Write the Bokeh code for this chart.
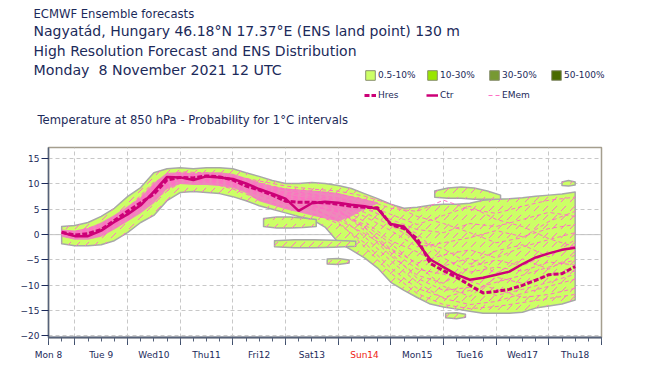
from bokeh.plotting import figure
from bokeh.layouts import column
from bokeh.models import Range1d, FixedTicker, Legend, LegendItem, Span, ColumnDataSource
from bokeh.core.properties import value
from bokeh.embed import file_html
from bokeh.resources import INLINE

NAVY = "#1c2a5a"
FONT = "DejaVu Sans"

# ---------------- data (hours after Mon 8 Nov 2021 12 UTC) ----------------
hours = [6, 12, 18, 24, 30, 36, 42, 48, 54, 60, 66, 72, 78, 84, 90, 96, 102, 108, 114, 120,
         126, 132, 138, 144, 150, 156, 162, 168, 174, 180, 186, 192, 198, 204, 210, 216, 222, 228, 234, 240]

ctr = [0.4, -0.3, -0.3, 0.8, 2.5, 4.0, 5.8, 8.5, 11.4, 11.3, 10.8, 11.5, 11.3, 11.0, 10.1, 9.0, 8.1, 7.1, 4.7, 6.2,
       6.5, 6.3, 5.9, 5.6, 5.1, 2.1, 1.6, -1.5, -4.9, -6.4, -7.9, -8.9, -8.5, -7.9, -7.3, -5.8, -4.5, -3.7, -3.0, -2.6]

hres = [0.5, -0.1, 0.2, 1.0, 2.8, 4.6, 6.3, 8.0, 10.8, 11.3, 11.2, 11.6, 11.4, 10.8, 9.6, 8.8, 7.8, 6.6, 6.4, 6.4,
        6.3, 6.0, 5.6, 5.4, 5.3, 2.0, 1.2, -0.8, -5.7, -7.1, -8.4, -10.0, -11.5, -11.2, -10.8, -10.0, -9.0, -7.9, -7.7, -6.3]

env_upper = [1.6, 1.8, 2.4, 3.6, 5.2, 7.5, 9.3, 12.2, 13.0, 13.2, 13.0, 13.2, 13.2, 13.0, 12.2, 11.5, 10.7, 10.1, 10.1, 10.3,
             10.1, 9.7, 9.1, 8.1, 7.1, 6.0, 5.2, 5.4, 5.8, 6.0, 6.0, 6.2, 6.8, 7.0, 7.1, 7.3, 7.6, 7.8, 8.0, 8.4]

env_lower = [-1.8, -2.2, -2.2, -2.0, -1.2, 0.4, 2.4, 3.8, 6.7, 8.3, 8.5, 8.3, 8.1, 7.5, 6.7, 5.7, 5.0, 4.3, 3.6, 3.0,
             1.5, -1.5, -3.0, -4.6, -6.6, -9.4, -11.0, -12.4, -13.7, -14.3, -14.7, -15.1, -15.5, -15.5, -15.5, -15.3, -14.5, -14.1, -13.7, -12.9]

# detached low-probability areas (hours, lower, upper)
isl_hours = [[98, 104, 110, 116, 122],
             [103, 112, 121, 130, 140],
             [127, 132, 137],
             [176, 182, 188, 194, 200, 206],
             [181, 186, 190],
             [234, 237, 240]]
isl_lower = [[1.6, 1.3, 1.3, 1.4, 1.6],
             [-2.4, -2.6, -2.6, -2.5, -2.3],
             [-5.8, -5.9, -5.6],
             [7.4, 7.2, 7.2, 7.0, 7.0, 7.0],
             [-16.4, -16.6, -16.3],
             [9.7, 9.6, 9.8]]
isl_upper = [[3.2, 3.5, 3.5, 3.3, 3.0],
             [-1.2, -1.0, -1.0, -1.1, -1.3],
             [-4.8, -4.7, -5.0],
             [8.6, 9.2, 9.4, 9.2, 8.6, 7.8],
             [-15.5, -15.4, -15.7],
             [10.4, 10.7, 10.4]]

# dense member core
core_hours = hours[:25]
core_upper = [1.0, 0.8, 1.3, 2.4, 3.9, 5.6, 7.4, 10.2, 12.2, 12.3, 12.1, 12.3, 12.3, 12.0, 11.2, 10.3, 9.6, 9.1, 8.9, 8.7,
              8.5, 8.2, 7.6, 7.0, 6.4]
core_lower = [-0.4, -1.0, -1.0, -0.4, 1.0, 2.6, 4.2, 6.2, 9.0, 10.0, 9.8, 9.8, 9.6, 9.2, 8.2, 6.6, 5.8, 5.0, 4.4, 3.8,
              3.2, 2.6, 3.6, 5.0, 6.1]

# ensemble members (12-hourly)
mem_hours = [6, 12, 24, 36, 48, 60, 72, 84, 96, 108, 120, 132, 144, 156, 168, 180, 192, 204, 216, 228, 240]
members = [
    [0.6, 0.4, 1.6, 4.8, 9.8, 12.0, 11.8, 11.4, 10.2, 9.0, 8.6, 8.0, 7.0, 5.2, 4.6, 6.8, 5.0, 4.2, 5.6, 6.8, 7.4],
    [0.3, -0.2, 1.0, 4.2, 9.0, 11.4, 11.6, 10.8, 9.4, 8.2, 7.4, 6.6, 5.2, 3.0, 1.0, 0.4, 2.2, 1.6, 3.0, 4.4, 3.6],
    [0.5, 0.2, 0.6, 3.6, 8.2, 11.0, 11.0, 10.2, 8.6, 7.2, 6.8, 5.8, 3.6, 0.8, -2.4, -1.6, -0.6, 0.8, -0.4, 1.2, 2.0],
    [0.2, -0.6, 0.4, 3.2, 7.6, 10.6, 10.8, 9.6, 7.8, 6.0, 5.6, 4.6, 1.4, -2.8, -5.6, -4.0, -3.0, -4.6, -2.4, -1.0, 0.4],
    [0.4, 0.0, 1.2, 4.4, 9.4, 11.8, 11.2, 11.0, 9.0, 7.8, 7.0, 5.0, 0.8, -4.2, -8.0, -9.6, -6.4, -5.0, -6.2, -3.6, -2.2],
    [0.1, -0.8, -0.2, 2.8, 7.0, 10.2, 10.4, 9.0, 7.0, 5.4, 4.2, 2.2, -1.6, -6.6, -10.6, -12.4, -11.0, -9.4, -8.0, -6.4, -5.0],
    [0.7, 0.6, 2.0, 5.2, 10.4, 12.4, 12.2, 11.6, 10.6, 9.6, 9.0, 8.6, 7.6, 6.0, 3.6, 2.2, 0.4, -1.6, -0.6, 2.6, 4.6],
    [0.3, -0.4, 0.8, 4.0, 8.8, 11.2, 11.4, 10.6, 9.2, 7.6, 6.2, 3.8, -0.4, -5.2, -9.4, -12.6, -13.8, -13.2, -11.6, -10.2, -8.8],
    [0.5, 0.1, 1.4, 4.6, 9.6, 11.6, 11.0, 10.4, 8.4, 6.6, 5.0, 3.0, 0.2, -3.0, -6.8, -7.8, -9.2, -10.8, -12.4, -11.8, -10.6],
    [0.4, -0.3, 0.2, 3.4, 8.0, 10.8, 10.6, 9.8, 8.2, 6.8, 6.4, 5.4, 2.6, -1.2, -3.4, -6.2, -4.6, -7.6, -4.8, -6.8, -4.0],
    [0.6, 0.3, 1.8, 5.0, 10.0, 12.2, 11.6, 11.2, 9.8, 8.8, 8.0, 7.2, 6.0, 4.0, 2.0, 3.8, 5.6, 3.0, 1.6, -0.8, -2.4],
    [0.2, -0.5, 0.6, 3.8, 8.6, 11.0, 10.8, 10.0, 8.8, 7.0, 5.8, 4.4, 2.0, -1.8, -6.0, -10.2, -12.2, -8.4, -9.6, -8.0, -7.2],
    [0.4, 0.0, 0.9, 4.2, 9.2, 11.5, 11.2, 10.6, 9.0, 7.4, 5.4, 2.6, -2.4, -7.6, -11.6, -13.8, -14.6, -14.2, -13.4, -12.6, -11.8],
    [0.5, -0.1, 1.1, 4.3, 9.1, 11.3, 11.3, 10.7, 9.3, 8.0, 6.6, 4.8, 1.6, -3.6, -8.6, -11.0, -10.4, -12.0, -10.8, -9.4, -7.8],
    [0.3, -0.3, 0.7, 3.9, 8.7, 11.1, 11.0, 10.3, 8.9, 7.5, 7.2, 6.2, 4.4, 1.8, -1.2, -2.8, -5.8, -3.2, -2.0, -4.4, -1.0],
    [0.6, 0.2, 1.5, 4.7, 9.5, 11.7, 11.5, 11.0, 9.6, 8.4, 7.8, 6.8, 5.6, 2.6, 0.2, -4.6, -7.4, -6.4, -7.2, -5.4, -6.0],
]

day_hours = [0, 24, 48, 72, 96, 120, 144, 168, 192, 216, 240]
day_labels = ["Mon 8", "Tue 9", "Wed10", "Thu11", "Fri12", "Sat13", "Sun14", "Mon15", "Tue16", "Wed17", "Thu18"]
midnight_hours = [12, 36, 60, 84, 108, 132, 156, 180, 204, 228]
y_ticks = [-20, -15, -10, -5, 0, 5, 10, 15]

prob_labels = ["0.5-10%", "10-30%", "30-50%", "50-100%"]
prob_colors = ["#ccff66", "#99e600", "#779933", "#4a6b00"]

title_lines = ["ECMWF Ensemble forecasts",
               "Nagyatád, Hungary 46.18°N 17.37°E (ENS land point) 130 m",
               "High Resolution Forecast and ENS Distribution",
               "Monday\u00a0 8 November 2021 12 UTC"]
subtitle = "Temperature at 850 hPa - Probability for 1°C intervals"

CTR_COLOR = "#cc0077"
MEM_COLOR = "#ff70c4"

# layout constants (pixels)
W = 650
HEAD_H = 140
FL, FR = 48, 49           # main frame left / right borders
X0, X1 = 0, 252           # hour range of the main frame

# ---------------- header (titles + legend) ----------------
head = figure(width=W, height=HEAD_H, x_range=Range1d(0, W), y_range=Range1d(HEAD_H, 0),
              output_backend="svg", toolbar_location=None, title=None,
              x_axis_type=None, y_axis_type=None,
              min_border_left=0, min_border_right=0, min_border_top=0, min_border_bottom=0)
head.frame_align = False
head.outline_line_color = None
head.xgrid.visible = False
head.ygrid.visible = False
head.text(x=[33, 33, 33, 33], y=[13, 30.5, 50, 69], text=title_lines,
          text_font=value(FONT), text_font_size=["11.6px", "14px", "14px", "14.2px"],
          text_color=NAVY, text_baseline="middle", text_align="left")
head.text(x=[37], y=[119], text=[subtitle], text_font=value(FONT), text_font_size="11.6px",
          text_color=NAVY, text_baseline="middle", text_align="left")

# legend proxies (kept outside the visible range)
off_x, off_y = [-20, -19, -19], [-20, -20, -19]
lg_prob = [head.patch(off_x, off_y, fill_color=c, line_color="#8a9070", line_width=1) for c in prob_colors]
lg_hres = head.line(off_x[:2], off_y[:2], line_color=CTR_COLOR, line_width=3, line_dash="5 2")
lg_ctr = head.line(off_x[:2], off_y[:2], line_color=CTR_COLOR, line_width=2.5)
lg_mem = head.line(off_x[:2], off_y[:2], line_color=MEM_COLOR, line_width=1, line_dash="4 3")
items = [LegendItem(label=l, renderers=[r]) for l, r in zip(prob_labels, lg_prob)]
items += [LegendItem(label="Hres", renderers=[lg_hres]),
          LegendItem(label="Ctr", renderers=[lg_ctr]),
          LegendItem(label="EMem", renderers=[lg_mem])]
legend = Legend(items=items, location=(364, 36), orientation="horizontal", ncols=4,
                glyph_width=12, glyph_height=12, label_height=18, label_width=46, label_standoff=2,
                spacing=2, padding=0, margin=0, border_line_color=None, background_fill_alpha=0,
                label_text_font=FONT, label_text_font_size="9px", label_text_color=NAVY)
head.add_layout(legend)

# ---------------- main chart ----------------
p = figure(width=W, height=205, x_range=Range1d(X0, X1), y_range=Range1d(-20.3, 17.2),
           output_backend="svg", toolbar_location=None, title=None,
           min_border_left=FL, min_border_right=FR, min_border_top=7, min_border_bottom=8)
p.frame_align = False
p.background_fill_color = "white"
p.border_fill_color = "white"
p.outline_line_color = "#a59e8e"
p.outline_line_width = 1.5

p.xgrid.ticker = FixedTicker(ticks=midnight_hours)
p.ygrid.ticker = FixedTicker(ticks=y_ticks)
for g in (p.xgrid, p.ygrid):
    g.grid_line_color = "#c8c8c8"
    g.grid_line_dash = "4 3"
    g.grid_line_width = 1
p.add_layout(Span(location=0, dimension="width", line_color="#c4c4c4", line_width=1, level="underlay"))

p.yaxis.ticker = FixedTicker(ticks=y_ticks)
p.yaxis.axis_line_color = "#56627a"
p.yaxis.axis_line_width = 1.5
p.yaxis.major_tick_line_color = NAVY
p.yaxis.major_tick_out = 7
p.yaxis.major_tick_in = 0
p.yaxis.major_label_standoff = 2
p.yaxis.major_label_text_font = FONT
p.yaxis.major_label_text_font_size = "9px"
p.yaxis.major_label_text_color = NAVY

p.xaxis.ticker = FixedTicker(ticks=[X0] + midnight_hours + [X1], minor_ticks=list(range(X0, X1 + 1, 6)))
p.xaxis.axis_line_color = "#56627a"
p.xaxis.axis_line_width = 2
p.xaxis.major_tick_line_color = "#40506e"
p.xaxis.major_tick_out = 8
p.xaxis.major_tick_in = 0
p.xaxis.minor_tick_line_color = "#56627a"
p.xaxis.minor_tick_out = 4
p.xaxis.minor_tick_in = 0
p.xaxis.major_label_standoff = 0
p.xaxis.major_label_overrides = {t: "" for t in [X0] + midnight_hours + [X1]}
p.xaxis.major_label_text_font_size = "1px"

env_xs = hours + hours[::-1]
env_ys = env_upper + env_lower[::-1]
p.patch(env_xs, env_ys, fill_color=prob_colors[0], line_color="#a8a8a8", line_width=1.5, line_join="round")
for hh, lo, up in zip(isl_hours, isl_lower, isl_upper):
    p.patch(hh + hh[::-1], up + lo[::-1], fill_color=prob_colors[0], line_color="#a8a8a8",
            line_width=1.5, line_join="round")
    p.patch(hh + hh[::-1], up + lo[::-1], fill_color=None, line_color=None,
            hatch_pattern="right_diagonal_dash", hatch_color=MEM_COLOR, hatch_scale=9, hatch_weight=1)

# scattered member dashes over the whole spread
p.patch(env_xs, env_ys, fill_color=None, line_color=None,
        hatch_pattern="right_diagonal_dash", hatch_color=MEM_COLOR, hatch_scale=9, hatch_weight=1)

p.patch(core_hours + core_hours[::-1], core_upper + core_lower[::-1], fill_color="#f27cc4",
        line_color=None, fill_alpha=0.9)

for m in members:
    p.line(mem_hours, m, line_color=MEM_COLOR, line_width=1, line_dash="4 3")

p.line(hours, ctr, line_color=CTR_COLOR, line_width=2.5)
p.line(hours, hres, line_color=CTR_COLOR, line_width=3, line_dash="5 2")

# ---------------- footer (day labels) ----------------
frame_w = W - FL - FR
hpp = (X1 - X0) / frame_w
foot = figure(width=W, height=30, x_range=Range1d(X0 - FL * hpp, X1 + FR * hpp), y_range=Range1d(30, 0),
              output_backend="svg", toolbar_location=None, title=None,
              x_axis_type=None, y_axis_type=None,
              min_border_left=0, min_border_right=0, min_border_top=0, min_border_bottom=0)
foot.frame_align = False
foot.outline_line_color = None
foot.xgrid.visible = False
foot.ygrid.visible = False
day_colors = ["#ee2211" if d.startswith("Sun") else NAVY for d in day_labels]
foot.text(source=ColumnDataSource(dict(x=day_hours, y=[9] * len(day_hours), t=day_labels, c=day_colors)),
          x="x", y="y", text="t", text_color="c", text_font=value(FONT), text_font_size="9px",
          text_baseline="middle", text_align="center")

layout = column(head, p, foot, spacing=0)
open("out.html", "w").write(file_html(layout, INLINE))
